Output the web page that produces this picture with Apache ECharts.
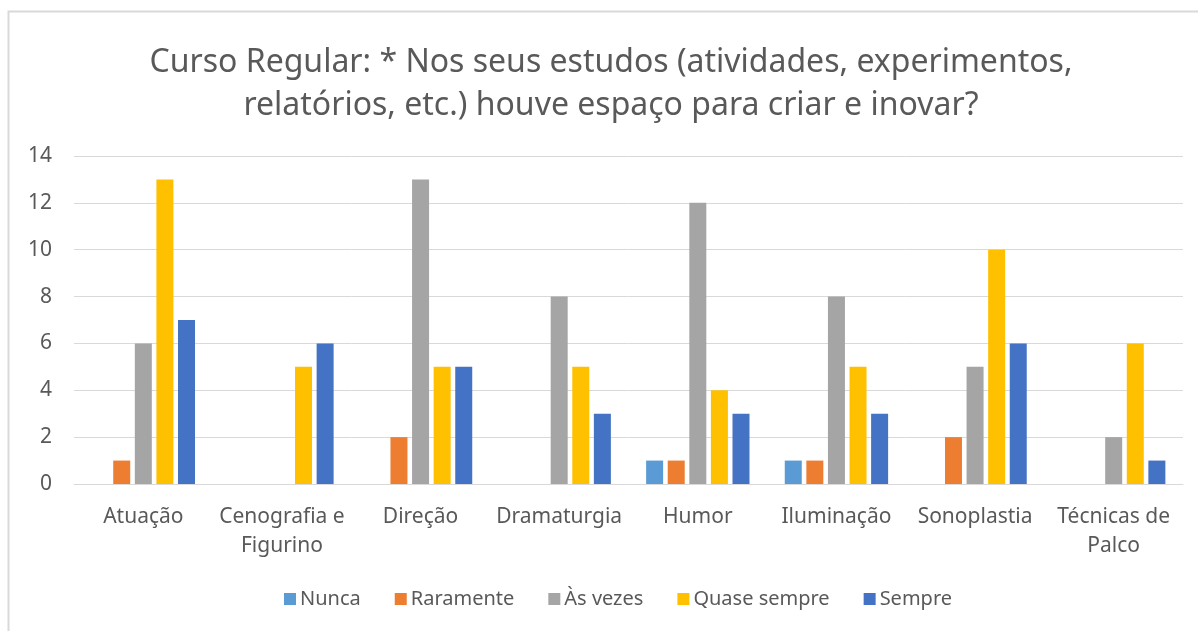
<!DOCTYPE html>
<html>
<head>
<meta charset="utf-8">
<script src="https://cdn.jsdelivr.net/npm/echarts@6/dist/echarts.min.js"></script>
<style>
  html, body { margin: 0; padding: 0; background: #fff; }
  #chart { width: 1198px; height: 631px; }
</style>
</head>
<body>
<div id="chart"></div>
<script>
var categories = ['Atuação', 'Cenografia e\nFigurino', 'Direção', 'Dramaturgia', 'Humor', 'Iluminação', 'Sonoplastia', 'Técnicas de\nPalco'];
var seriesNames = ['Nunca', 'Raramente', 'Às vezes', 'Quase sempre', 'Sempre'];
var colors = ['#5B9BD5', '#ED7D31', '#A5A5A5', '#FFC000', '#4472C4'];

var nunca = [0, 0, 0, 0, 1, 1, 0, 0];
var raramente = [1, 0, 2, 0, 1, 1, 2, 0];
var asVezes = [6, 0, 13, 8, 12, 8, 5, 2];
var quaseSempre = [13, 5, 5, 5, 4, 5, 10, 6];
var sempre = [7, 6, 5, 3, 3, 3, 6, 1];

var values = [nunca, raramente, asVezes, quaseSempre, sempre];
var font = '"Noto Sans", "Open Sans", sans-serif';

var myChart = echarts.init(document.getElementById('chart'));

var series = seriesNames.map(function (name, i) {
    return {
        name: name,
        type: 'bar',
        barWidth: 17,
        barGap: '27%',
        itemStyle: { color: colors[i] },
        data: values[i].map(function (v) { return v === 0 ? null : v; })
    };
});

myChart.setOption({
    animation: false,
    title: {
        text: 'Curso Regular: * Nos seus estudos (atividades, experimentos,\nrelatórios, etc.) houve espaço para criar e inovar?',
        left: 606,
        textAlign: 'center',
        top: 36,
        textStyle: {
            color: '#595959',
            fontFamily: font,
            fontWeight: 'normal',
            fontSize: 32,
            lineHeight: 43
        }
    },
    legend: {
        top: 584,
        left: 279,
        itemWidth: 12,
        itemHeight: 12,
        itemGap: 34,
        icon: 'rect',
        textStyle: { color: '#595959', fontFamily: font, fontSize: 20, padding: [0, 0, 0, -1] },
        data: seriesNames
    },
    grid: { left: 74, right: 15, top: 156, bottom: 147 },
    xAxis: {
        type: 'category',
        data: categories,
        axisLine: { lineStyle: { color: '#d9d9d9', width: 1 } },
        axisTick: { show: false },
        axisLabel: {
            color: '#595959',
            fontFamily: font,
            fontSize: 21,
            lineHeight: 29,
            margin: 19,
            interval: 0
        }
    },
    yAxis: {
        type: 'value',
        min: 0,
        max: 14,
        interval: 2,
        axisLine: { show: false },
        axisTick: { show: false },
        axisLabel: { color: '#595959', fontFamily: font, fontSize: 21, margin: 22 },
        splitLine: { lineStyle: { color: '#d9d9d9', width: 1 } }
    },
    graphic: [{
        type: 'rect',
        shape: { x: 8.5, y: 11.5, width: 1400, height: 800 },
        style: { fill: 'none', stroke: '#d9d9d9', lineWidth: 2 },
        silent: true
    }],
    series: series
});
</script>
</body>
</html>
